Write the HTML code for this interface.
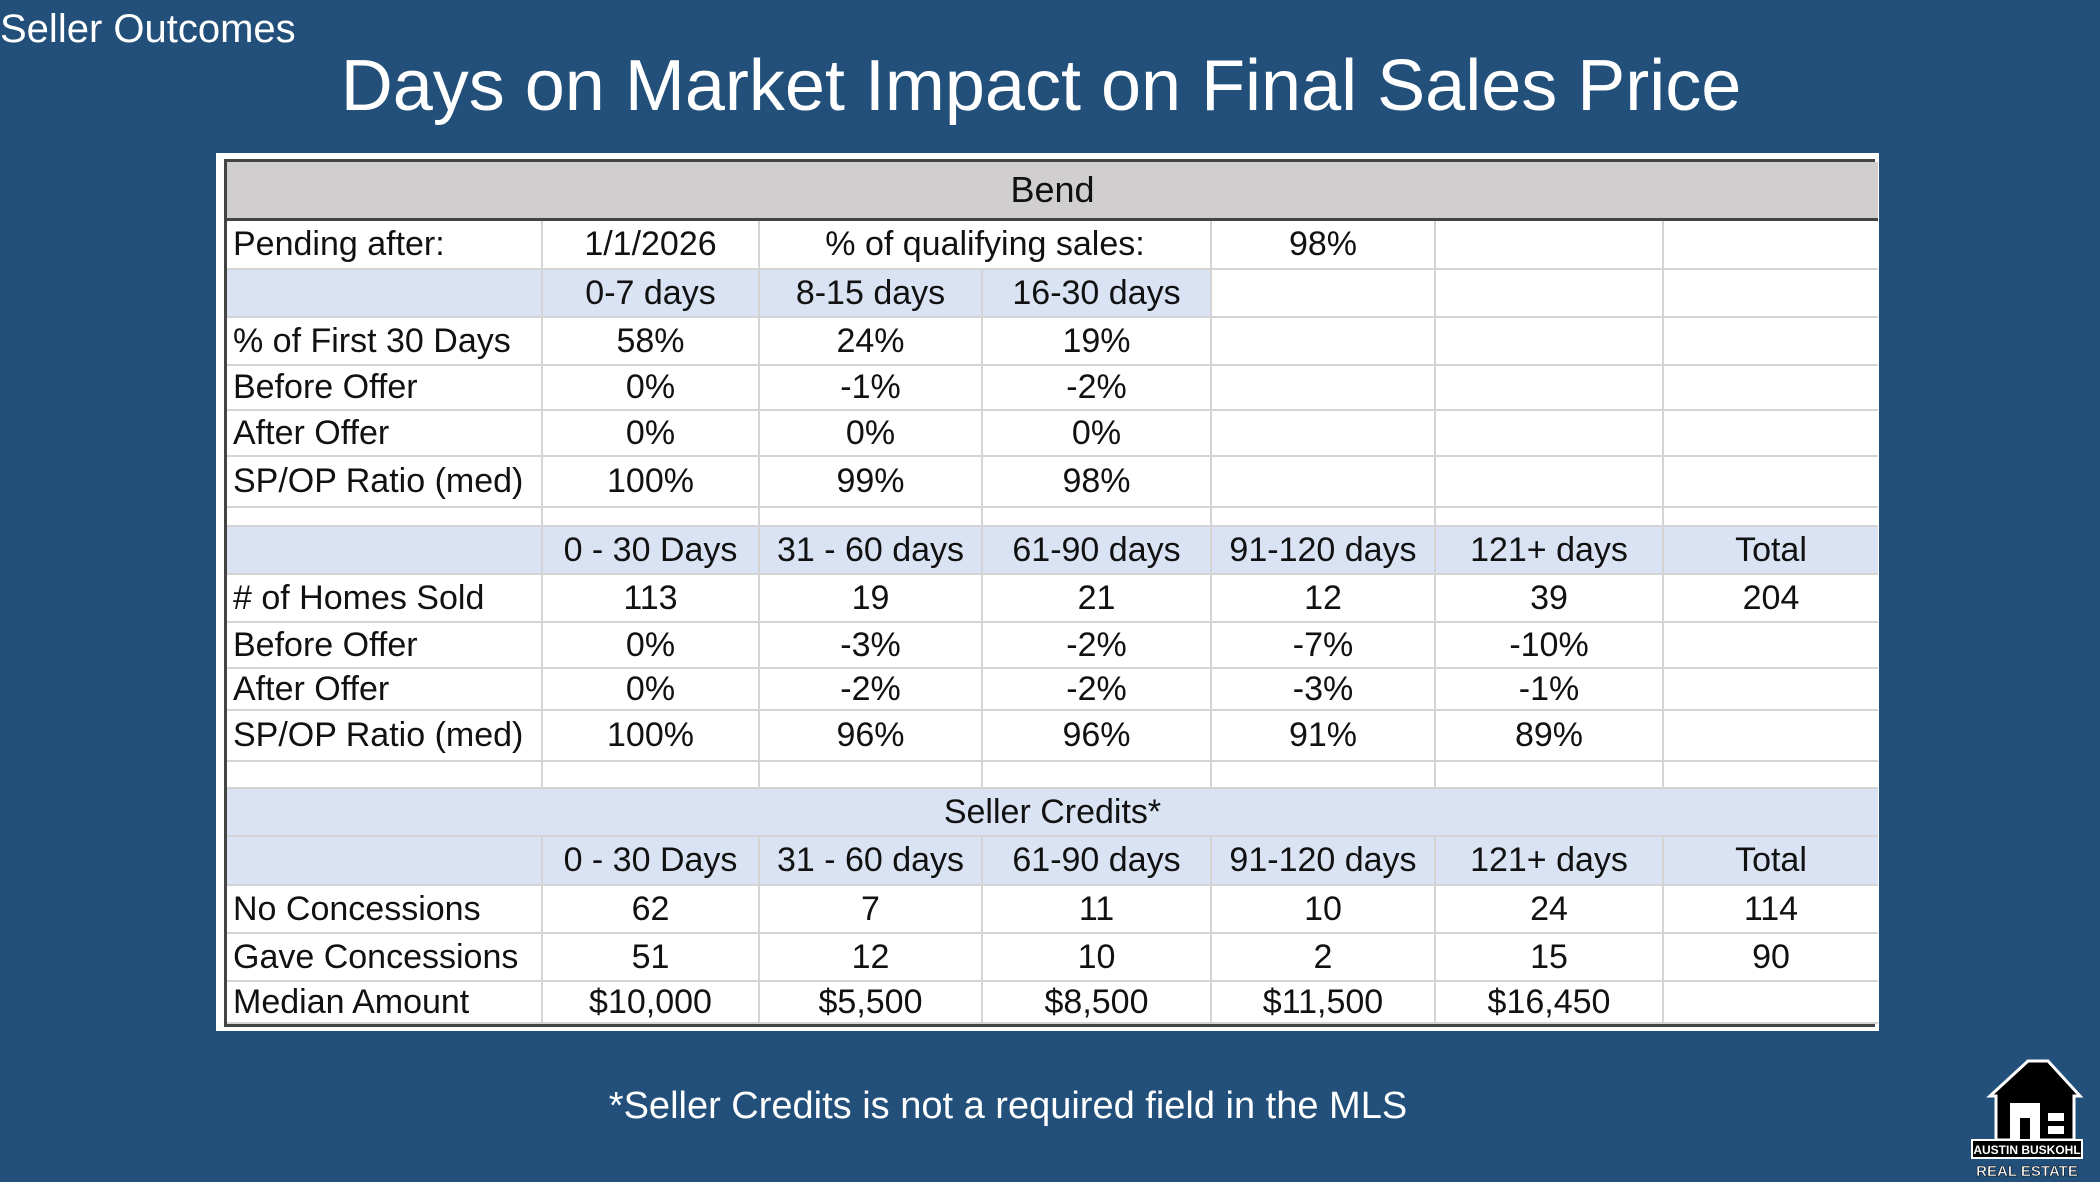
<!DOCTYPE html>
<html><head><meta charset="utf-8"><style>
body{margin:0;width:2100px;height:1182px;background:#22507a;overflow:hidden;font-family:"Liberation Sans",sans-serif;position:relative}
.t{position:absolute;color:#fff;white-space:nowrap}
#tbl{position:absolute;left:216px;top:153px;width:1663px;height:878px;background:#fff}
.c{position:absolute;box-sizing:border-box;border-right:2px solid #d4d4d4;border-bottom:2px solid #d4d4d4;font-size:34px;color:#111;display:flex;align-items:center;justify-content:center;white-space:nowrap;overflow:hidden}
.c.l{justify-content:flex-start;padding-left:6px}
</style></head><body>
<div class="t" style="left:0;top:7px;font-size:40px">Seller Outcomes</div>
<div class="t" style="left:0;width:2082px;text-align:center;top:45px;font-size:72px">Days on Market Impact on Final Sales Price</div>
<div id="tbl"><div id="inner" style="position:absolute;left:8px;top:6px;width:1651px;height:868px;border:3px solid #444;box-sizing:border-box;background:#fff"></div></div>
<div class="t" style="left:0;width:2016px;text-align:center;top:1085px;font-size:38px">*Seller Credits is not a required field in the MLS</div>
<svg style="position:absolute;left:1968px;top:1058px" width="118" height="122" viewBox="0 0 118 122">
<polygon points="60,3 22,38 28,38 28,82 106,82 106,38 112,38 80,3" fill="#000" stroke="#fff" stroke-width="3"/>
<rect x="42" y="45" width="30" height="37" fill="#fff"/><rect x="52" y="60" width="10" height="22" fill="#000"/>
<rect x="80" y="55" width="16" height="8" fill="#fff"/><rect x="80" y="68" width="16" height="8" fill="#fff"/>
<rect x="4" y="82" width="110" height="18" fill="#000" stroke="#fff" stroke-width="2"/>
<text x="59" y="96" fill="#fff" font-size="12" font-weight="bold" text-anchor="middle">AUSTIN BUSKOHL</text>
<text x="59" y="118" fill="#fff" stroke="#000" stroke-width="0.5" font-size="15" font-weight="bold" text-anchor="middle">REAL ESTATE</text>
</svg>
<script>
const colX=[0,316,533,756,985,1209,1437,1651];
const rowH=[59,49,48,48,45,46,51,19,48,48,46,42,51,27,48,49,48,48,42];
const G='#d0cece',B='#dae3f3',W='#fff';
const rows=[
[G,[['Bend',7]]],
[W,[['Pending after:',1],['1/1/2026',1],['% of qualifying sales:',2],['98%',1],['',1],['',1]]],
[W,[['',1],['0-7 days',1],['8-15 days',1],['16-30 days',1],['',1],['',1],['',1]]],
[W,[['% of First 30 Days',1],['58%',1],['24%',1],['19%',1],['',1],['',1],['',1]]],
[W,[['Before Offer',1],['0%',1],['-1%',1],['-2%',1],['',1],['',1],['',1]]],
[W,[['After Offer',1],['0%',1],['0%',1],['0%',1],['',1],['',1],['',1]]],
[W,[['SP/OP Ratio (med)',1],['100%',1],['99%',1],['98%',1],['',1],['',1],['',1]]],
[W,[['',1],['',1],['',1],['',1],['',1],['',1],['',1]]],
[B,[['',1],['0 - 30 Days',1],['31 - 60 days',1],['61-90 days',1],['91-120 days',1],['121+ days',1],['Total',1]]],
[W,[['# of Homes Sold',1],['113',1],['19',1],['21',1],['12',1],['39',1],['204',1]]],
[W,[['Before Offer',1],['0%',1],['-3%',1],['-2%',1],['-7%',1],['-10%',1],['',1]]],
[W,[['After Offer',1],['0%',1],['-2%',1],['-2%',1],['-3%',1],['-1%',1],['',1]]],
[W,[['SP/OP Ratio (med)',1],['100%',1],['96%',1],['96%',1],['91%',1],['89%',1],['',1]]],
[W,[['',1],['',1],['',1],['',1],['',1],['',1],['',1]]],
[B,[['Seller Credits*',7]]],
[B,[['',1],['0 - 30 Days',1],['31 - 60 days',1],['61-90 days',1],['91-120 days',1],['121+ days',1],['Total',1]]],
[W,[['No Concessions',1],['62',1],['7',1],['11',1],['10',1],['24',1],['114',1]]],
[W,[['Gave Concessions',1],['51',1],['12',1],['10',1],['2',1],['15',1],['90',1]]],
[W,[['Median Amount',1],['$10,000',1],['$5,500',1],['$8,500',1],['$11,500',1],['$16,450',1],['',1]]]
];
const inner=document.getElementById('inner');
let y=0;
rows.forEach((r,ri)=>{
  let ci=0;
  r[1].forEach(([txt,span])=>{
    const d=document.createElement('div');
    
    
    d.className='c'+(ci===0&&span===1?' l':'');
    let bg=r[0];
    if(ri===2&&ci<4)bg=B;
    d.style.cssText+=`left:${colX[ci]}px;top:${y}px;width:${colX[ci+span]-colX[ci]}px;height:${rowH[ri]}px;background:${bg}`;
    if(ri===0){d.style.borderBottom='3px solid #444';d.style.fontSize='36px';}
    if(ci+span===7)d.style.borderRight='none';
    d.textContent=txt;
    inner.appendChild(d);
    ci+=span;
  });
  y+=rowH[ri];
});
</script>
</body></html>
